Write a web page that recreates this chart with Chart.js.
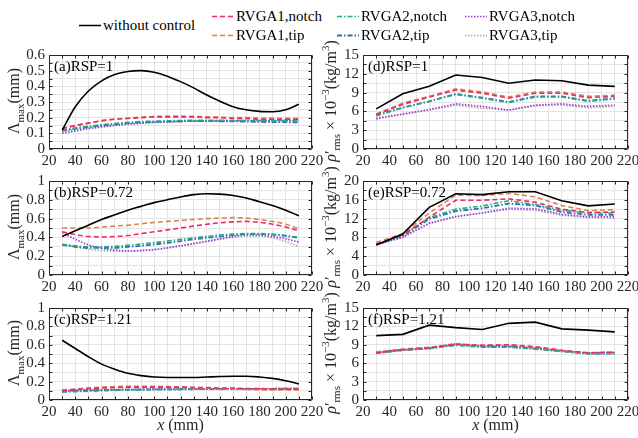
<!DOCTYPE html>
<html><head><meta charset="utf-8">
<script src="https://cdn.jsdelivr.net/npm/chart.js@4/dist/chart.umd.min.js"></script>
<style>
html,body{margin:0;padding:0;background:#fff;}
body{width:638px;height:438px;overflow:hidden;position:relative;font-family:"Liberation Serif","Tinos","Times New Roman","Times","DejaVu Serif","Noto Serif",serif;color:#000;}
canvas{position:absolute;}
.ylab{position:absolute;white-space:nowrap;font-size:16px;color:#262626;transform:translate(-50%,-50%) rotate(-90deg);line-height:1;}
.ylab sub,.ylab sup{font-size:11px;}
.xlab{position:absolute;white-space:nowrap;font-size:16px;color:#262626;transform:translate(-50%,-50%);}
.leg{position:absolute;white-space:nowrap;font-size:15px;line-height:1;transform:translateY(-50%);display:flex;align-items:center;}
.leg svg{margin-right:2px;}
</style>
</head><body>
<script>
// ---------------- DATA ----------------
const seriesNames = ['without control','RVGA1,notch','RVGA1,tip','RVGA2,notch','RVGA2,tip','RVGA3,notch','RVGA3,tip'];
const panelTitles = ['(a)RSP=1','(b)RSP=0.72','(c)RSP=1.21','(d)RSP=1','(e)RSP=0.72','(f)RSP=1.21'];

// x positions (mm)
const xLeft  = [30,40,50,60,70,80,90,100,110,120,130,140,150,160,170,180,190,200,210];
const xRight = [30,50,70,90,110,130,150,170,190,210];

// tick labels
const xTickLabels = [20,40,60,80,100,120,140,160,180,200,220];
const yTicksA = [0,0.1,0.2,0.3,0.4,0.5,0.6];
const yTicksBC = [0,0.2,0.4,0.6,0.8,1];
const yTicksDF = [0,3,6,9,12,15];
const yTicksE = [0,4,8,12,16,20];

// (a) RSP=1, Lambda_max (mm)
const aWithout = [0.12,0.27,0.37,0.435,0.475,0.495,0.50,0.49,0.465,0.43,0.39,0.345,0.305,0.27,0.25,0.24,0.238,0.25,0.285];
const aR1Notch = [0.13,0.15,0.165,0.18,0.19,0.195,0.20,0.205,0.205,0.205,0.205,0.20,0.20,0.195,0.195,0.19,0.19,0.19,0.19];
const aR1Tip   = [0.13,0.15,0.165,0.18,0.19,0.197,0.203,0.207,0.21,0.21,0.208,0.205,0.203,0.20,0.20,0.198,0.197,0.196,0.196];
const aR2Notch = [0.12,0.135,0.145,0.155,0.163,0.17,0.175,0.178,0.18,0.182,0.183,0.183,0.183,0.182,0.181,0.18,0.18,0.18,0.18];
const aR2Tip   = [0.115,0.13,0.14,0.15,0.158,0.165,0.17,0.173,0.175,0.177,0.178,0.178,0.177,0.176,0.175,0.173,0.172,0.171,0.17];
const aR3Notch = [0.10,0.115,0.13,0.14,0.15,0.158,0.165,0.17,0.173,0.176,0.178,0.18,0.18,0.18,0.18,0.18,0.18,0.18,0.18];
const aR3Tip   = [0.11,0.125,0.135,0.145,0.153,0.16,0.165,0.17,0.173,0.176,0.178,0.18,0.181,0.182,0.183,0.184,0.185,0.186,0.186];

// (b) RSP=0.72
const bWithout = [0.41,0.47,0.53,0.59,0.64,0.69,0.73,0.77,0.80,0.83,0.855,0.865,0.86,0.845,0.82,0.78,0.74,0.69,0.63];
const bR1Notch = [0.46,0.43,0.41,0.405,0.41,0.42,0.44,0.46,0.48,0.50,0.52,0.54,0.555,0.565,0.57,0.56,0.54,0.51,0.47];
const bR1Tip   = [0.50,0.50,0.50,0.51,0.52,0.53,0.545,0.56,0.57,0.58,0.59,0.60,0.605,0.61,0.605,0.59,0.57,0.54,0.49];
const bR2Notch = [0.325,0.31,0.30,0.30,0.305,0.315,0.33,0.345,0.36,0.38,0.395,0.41,0.425,0.435,0.44,0.44,0.435,0.42,0.40];
const bR2Tip   = [0.32,0.30,0.29,0.29,0.29,0.30,0.31,0.325,0.34,0.36,0.38,0.395,0.41,0.425,0.435,0.435,0.43,0.415,0.395];
const bR3Notch = [0.45,0.38,0.32,0.285,0.265,0.255,0.26,0.27,0.29,0.31,0.335,0.36,0.385,0.41,0.425,0.425,0.41,0.385,0.35];
const bR3Tip   = [0.33,0.30,0.275,0.26,0.255,0.255,0.26,0.27,0.285,0.31,0.33,0.355,0.38,0.40,0.415,0.415,0.395,0.355,0.30];

// (c) RSP=1.21
const cWithout = [0.65,0.56,0.47,0.39,0.335,0.29,0.265,0.25,0.245,0.245,0.245,0.25,0.255,0.258,0.258,0.25,0.235,0.21,0.175];
const cR1Notch = [0.10,0.115,0.125,0.13,0.135,0.14,0.14,0.14,0.14,0.14,0.135,0.135,0.13,0.13,0.125,0.125,0.12,0.12,0.12];
const cR1Tip   = [0.11,0.12,0.13,0.14,0.145,0.15,0.15,0.15,0.145,0.14,0.135,0.13,0.125,0.12,0.115,0.11,0.11,0.11,0.11];
const cR2Notch = [0.085,0.09,0.095,0.10,0.105,0.108,0.11,0.112,0.114,0.115,0.116,0.117,0.118,0.118,0.119,0.12,0.12,0.12,0.12];
const cR2Tip   = [0.10,0.103,0.106,0.108,0.11,0.112,0.114,0.115,0.116,0.117,0.118,0.119,0.12,0.12,0.121,0.122,0.122,0.123,0.123];
const cR3Notch = [0.10,0.103,0.106,0.109,0.112,0.114,0.116,0.118,0.119,0.12,0.12,0.121,0.121,0.122,0.122,0.123,0.123,0.124,0.125];
const cR3Tip   = [0.095,0.10,0.105,0.108,0.11,0.112,0.114,0.116,0.118,0.119,0.12,0.12,0.12,0.121,0.121,0.122,0.122,0.122,0.122];

// (d) RSP=1, rho'_rms x 1e-3 (kg/m^3)
const dWithout = [6.4,8.8,10.0,11.8,11.4,10.5,11.0,10.9,10.2,10.0];
const dR1Notch = [5.5,7.1,8.3,9.4,8.9,8.1,8.9,8.9,8.2,8.4];
const dR1Tip   = [5.6,7.3,8.4,9.6,9.1,8.3,9.1,9.1,8.4,8.6];
const dR2Notch = [5.3,6.6,7.6,8.7,8.1,7.4,8.3,8.3,7.6,8.0];
const dR2Tip   = [5.4,6.6,7.6,8.8,8.2,7.5,8.4,8.4,7.7,8.1];
const dR3Notch = [4.8,5.6,6.3,7.2,6.8,6.2,7.0,7.2,6.8,7.0];
const dR3Tip   = [5.0,5.5,6.2,7.0,6.5,6.2,6.9,7.0,6.6,6.8];

// (e) RSP=0.72
const eWithout = [6.4,8.7,14.4,17.3,17.1,17.7,17.7,15.8,14.7,15.1];
const eR1Notch = [6.6,8.5,12.3,15.9,15.9,16.2,15.5,14.0,13.3,13.4];
const eR1Tip   = [6.9,8.8,13.2,17.0,16.9,17.4,16.6,14.8,13.7,13.9];
const eR2Notch = [6.5,8.4,12.2,14.0,14.7,15.8,15.0,13.8,13.2,13.2];
const eR2Tip   = [6.5,8.3,11.9,13.6,14.2,15.2,14.8,13.4,12.8,12.8];
const eR3Notch = [6.4,8.0,11.0,12.4,13.2,14.2,14.1,12.9,12.4,12.4];
const eR3Tip   = [6.5,8.1,11.0,12.5,13.2,14.0,13.8,12.7,12.2,12.1];

// (f) RSP=1.21
const fWithout = [10.5,10.7,12.2,11.8,11.5,12.5,12.7,11.6,11.4,11.1];
const fR1Notch = [7.7,8.2,8.5,9.1,8.9,9.0,8.7,8.1,7.7,7.8];
const fR1Tip   = [7.8,8.3,8.6,9.1,8.9,9.0,8.6,8.0,7.6,7.6];
const fR2Notch = [7.6,8.1,8.4,8.9,8.6,8.6,8.3,7.9,7.5,7.5];
const fR2Tip   = [7.8,8.2,8.4,9.0,8.7,8.7,8.4,8.0,7.6,7.7];
const fR3Notch = [7.7,8.2,8.5,9.2,8.8,8.8,8.5,8.0,7.7,7.8];
const fR3Tip   = [7.6,8.1,8.4,9.0,8.7,8.7,8.4,7.9,7.5,7.6];

// ---------------- STYLE ----------------
const STYLES = [
  {color:'#000000', dash:[], width:1.6},
  {color:'#EC2A6A', dash:[5,3], width:1.6},
  {color:'#DA844C', dash:[5,3], width:1.6},
  {color:'#26A98A', dash:[5,2,1.5,2], width:1.6},
  {color:'#2A72A8', dash:[5,2,1.5,2], width:1.8},
  {color:'#9A3AD4', dash:[1.5,1.5], width:1.6},
  {color:'#A8A8A8', dash:[1.5,1.5], width:1.6}
];
const AXC = '#262626';
const FONT = '"Liberation Serif", Tinos, "Times New Roman", Times, "DejaVu Serif", "Noto Serif", serif';

function tickLabel(list){
  return v => { for (const t of list) if (Math.abs(t - v) < 1e-7) return String(t); return ''; };
}

const framePlugin = {
  id:'frame',
  afterDraw(chart){
    const {ctx, chartArea:a, scales:{x,y}} = chart;
    ctx.save();
    ctx.strokeStyle = AXC; ctx.lineWidth = 1;
    const L = Math.round(a.left)+0.5, R = Math.round(a.right)-0.5, T = Math.round(a.top)+0.5, B = Math.round(a.bottom)-0.5;
    ctx.beginPath();
    ctx.rect(L, T, R-L, B-T);
    x.ticks.forEach(t => { const p = Math.round(x.getPixelForValue(t.value))+0.5; ctx.moveTo(p,B); ctx.lineTo(p,B-3); ctx.moveTo(p,T); ctx.lineTo(p,T+3); });
    y.ticks.forEach(t => { const p = Math.round(y.getPixelForValue(t.value))+0.5; ctx.moveTo(L,p); ctx.lineTo(L+3,p); ctx.moveTo(R,p); ctx.lineTo(R-3,p); });
    ctx.stroke();
    const title = chart.options.plugins.frame.title;
    ctx.fillStyle = '#000'; ctx.font = '15px ' + FONT; ctx.textBaseline = 'top'; ctx.textAlign = 'left';
    ctx.fillText(title, a.left + 5, a.top + 5);
    ctx.restore();
  }
};

function makePanel(rect, xs, seriesList, yMin, yMax, yStep, yTicks, title, smooth){
  const cv = document.createElement('canvas');
  const W = rect.r - rect.l + 45 + 16, H = rect.b - rect.t + 10 + 24;
  cv.width = W; cv.height = H;
  cv.style.left = (rect.l - 45) + 'px'; cv.style.top = (rect.t - 10) + 'px';
  cv.style.width = W + 'px'; cv.style.height = H + 'px';
  document.body.appendChild(cv);
  const datasets = seriesList.map((vals, i) => ({
    label: seriesNames[i],
    data: vals.map((v, k) => ({x: xs[k], y: v})),
    borderColor: STYLES[i].color,
    borderWidth: STYLES[i].width,
    borderDash: STYLES[i].dash,
    pointRadius: 0,
    fill: false,
    tension: smooth ? 0.4 : 0,
    cubicInterpolationMode: smooth ? 'monotone' : 'default'
  }));
  new Chart(cv, {
    type: 'line',
    data: {datasets},
    options: {
      responsive: false, animation: false, devicePixelRatio: 1,
      layout: {padding: {top: 10, right: 16, left: 0, bottom: 0}},
      plugins: {legend: {display: false}, tooltip: {enabled: false}, frame: {title}},
      scales: {
        x: {
          type: 'linear', min: 20, max: 220,
          ticks: {stepSize: 10, autoSkip: false, maxRotation: 0, padding: 3, color: AXC, font: {family: FONT, size: 15}, callback: tickLabel(xTickLabels)},
          grid: {color: '#e4e4e4', drawTicks: false},
          border: {display: false},
          afterFit: s => { s.height = 24; }
        },
        y: {
          type: 'linear', min: yMin, max: yMax,
          ticks: {stepSize: yStep, autoSkip: false, padding: 4, color: AXC, font: {family: FONT, size: 15}, callback: tickLabel(yTicks)},
          grid: {color: '#e4e4e4', drawTicks: false},
          border: {display: false},
          afterFit: s => { s.width = 45; }
        }
      }
    },
    plugins: [framePlugin]
  });
}

const rects = [
  {l:49, t:52, r:312, b:149}, {l:49, t:178, r:312, b:275}, {l:49, t:305, r:312, b:400},
  {l:363, t:52, r:628, b:149}, {l:363, t:178, r:628, b:275}, {l:363, t:305, r:628, b:400}
];

makePanel(rects[0], xLeft, [aWithout,aR1Notch,aR1Tip,aR2Notch,aR2Tip,aR3Notch,aR3Tip], 0, 0.6, 0.05, yTicksA, panelTitles[0], true);
makePanel(rects[1], xLeft, [bWithout,bR1Notch,bR1Tip,bR2Notch,bR2Tip,bR3Notch,bR3Tip], 0, 1, 0.1, yTicksBC, panelTitles[1], true);
makePanel(rects[2], xLeft, [cWithout,cR1Notch,cR1Tip,cR2Notch,cR2Tip,cR3Notch,cR3Tip], 0, 1, 0.1, yTicksBC, panelTitles[2], true);
makePanel(rects[3], xRight, [dWithout,dR1Notch,dR1Tip,dR2Notch,dR2Tip,dR3Notch,dR3Tip], 0, 15, 1.5, yTicksDF, panelTitles[3], false);
makePanel(rects[4], xRight, [eWithout,eR1Notch,eR1Tip,eR2Notch,eR2Tip,eR3Notch,eR3Tip], 0, 20, 2, yTicksE, panelTitles[4], false);
makePanel(rects[5], xRight, [fWithout,fR1Notch,fR1Tip,fR2Notch,fR2Tip,fR3Notch,fR3Tip], 0, 15, 1.5, yTicksDF, panelTitles[5], false);

rects.forEach((r, i) => {
  const d = document.createElement('div');
  d.className = 'ylab';
  const cy = (r.t + r.b) / 2;
  if (i < 3) {
    d.innerHTML = 'Λ<sub>max</sub>(mm)';
    d.style.left = '16px'; d.style.top = cy + 'px';
  } else {
    d.innerHTML = '<i>ρ</i>′<sub>rms</sub> × 10<sup>−3</sup>(kg/m<sup>3</sup>)';
    d.style.left = '331px'; d.style.top = cy + 'px';
  }
  document.body.appendChild(d);
});
[[180.5, 425], [495.5, 425]].forEach(([x, y]) => {
  const d = document.createElement('div');
  d.className = 'xlab';
  d.innerHTML = '<i>x</i> (mm)';
  d.style.left = x + 'px'; d.style.top = y + 'px';
  document.body.appendChild(d);
});

const legendPos = [[79,25],[212,16],[212,35],[337,16],[337,35],[465,16],[465,35]];
seriesNames.forEach((name, i) => {
  const st = STYLES[i];
  const d = document.createElement('div');
  d.className = 'leg';
  d.style.left = legendPos[i][0] + 'px'; d.style.top = legendPos[i][1] + 'px';
  const w = 22;
  d.innerHTML = '<svg width="' + w + '" height="6"><line x1="0" y1="3" x2="' + w + '" y2="3" stroke="' + st.color + '" stroke-width="' + st.width + '"' + (st.dash.length ? ' stroke-dasharray="' + st.dash.join(',') + '"' : '') + '/></svg><span>' + name + '</span>';
  document.body.appendChild(d);
});
</script>
</body></html>
